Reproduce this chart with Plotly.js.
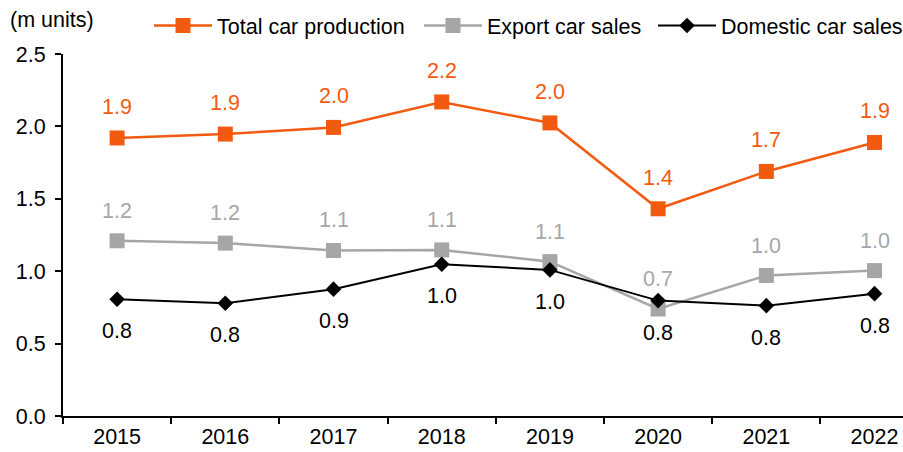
<!DOCTYPE html>
<html>
<head>
<meta charset="utf-8">
<script src="https://cdn.plot.ly/plotly-3.0.1.min.js"></script>
<style>html,body{margin:0;padding:0;background:#fff;}#chart{width:903px;height:452px;}</style>
</head>
<body>
<div id="chart"></div>
<script>
var years = ["2015","2016","2017","2018","2019","2020","2021","2022"];
var totalProduction = [1.92, 1.947, 1.993, 2.169, 2.024, 1.431, 1.689, 1.889];
var exportSales = [1.21, 1.194, 1.143, 1.147, 1.066, 0.739, 0.97, 1.004];
var domesticSales = [0.806, 0.779, 0.876, 1.048, 1.009, 0.797, 0.762, 0.845];
var yTicks = [0, 0.5, 1.0, 1.5, 2.0, 2.5];
var yTickText = ["0.0", "0.5", "1.0", "1.5", "2.0", "2.5"];

var ORANGE = "#F25A0F", GREY = "#A6A6A6", BLACK = "#000000";
var FONT = "Liberation Sans, Arial, sans-serif";
var FS = 21.5;

var traces = [
  {x: years, y: totalProduction, name: "Total car production", type: "scatter", mode: "lines+markers",
   line: {color: ORANGE, width: 2.5}, marker: {symbol: "square", size: 15, color: ORANGE}, legend: "legend"},
  {x: years, y: exportSales, name: "Export car sales", type: "scatter", mode: "lines+markers",
   line: {color: GREY, width: 2.5}, marker: {symbol: "square", size: 15, color: GREY}, legend: "legend2"},
  {x: years, y: domesticSales, name: "Domestic car sales", type: "scatter", mode: "lines+markers",
   line: {color: BLACK, width: 2}, marker: {symbol: "diamond", size: 12, color: BLACK}, legend: "legend3"}
];

var annotations = [];
function addLabels(vals, color, shift) {
  vals.forEach(function (v, i) {
    annotations.push({x: i, y: v, xref: "x", yref: "y", text: v.toFixed(1), showarrow: false,
      yshift: shift, font: {family: FONT, size: FS, color: color}});
  });
}
addLabels(totalProduction, ORANGE, 31);
addLabels(exportSales, GREY, 30);
addLabels(domesticSales, BLACK, -32);
annotations.push({x: (8 - 63) / 840, y: (416 - 20) / 362, xref: "paper", yref: "paper", text: "(m units)",
  showarrow: false, xanchor: "left", yanchor: "middle", font: {family: FONT, size: FS, color: BLACK}});

function legendAt(px) {
  return {x: px / 903, xref: "container", y: 1 - 5 / 452, yref: "container", xanchor: "left", yanchor: "top",
    orientation: "h", itemwidth: 58, font: {family: FONT, size: FS, color: BLACK}, bgcolor: "rgba(0,0,0,0)",
    borderwidth: 0, tracegroupgap: 0};
}

var layout = {
  width: 903, height: 452,
  margin: {l: 63, r: 0, t: 54, b: 36, pad: 0},
  paper_bgcolor: "#fff", plot_bgcolor: "#fff",
  font: {family: FONT, size: FS, color: BLACK},
  showlegend: true,
  legend: legendAt(149),
  legend2: legendAt(419),
  legend3: legendAt(653),
  xaxis: {type: "category", range: [-0.5, 7.263], showgrid: false, zeroline: false,
    showline: true, linecolor: BLACK, linewidth: 2, ticks: "outside", tickson: "boundaries",
    ticklen: 6, tickwidth: 2, tickcolor: BLACK, tickfont: {family: FONT, size: FS, color: BLACK}},
  yaxis: {range: [0, 2.5], tickvals: yTicks, ticktext: yTickText, showgrid: false, zeroline: false,
    showline: true, linecolor: BLACK, linewidth: 2, ticks: "outside", ticklen: 6, tickwidth: 2,
    tickcolor: BLACK, tickfont: {family: FONT, size: FS, color: BLACK}, ticklabelstandoff: 5},
  annotations: annotations
};

Plotly.newPlot("chart", traces, layout, {staticPlot: true, displayModeBar: false});
</script>
</body>
</html>
